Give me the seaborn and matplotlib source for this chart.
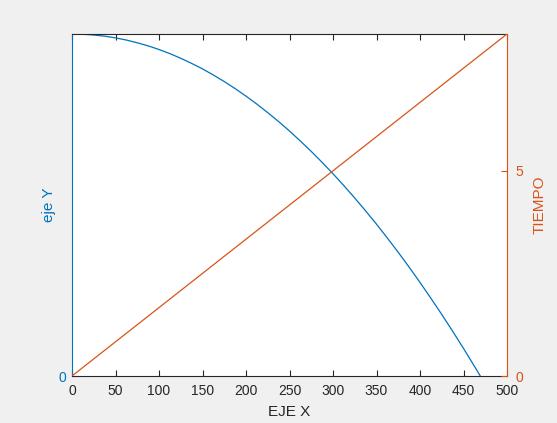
import numpy as np
import pandas as pd
import matplotlib
matplotlib.use("Agg")
import matplotlib.pyplot as plt
import seaborn as sns

# posicion horizontal y altura (curva azul)
eje_x = [0, 12.5, 25, 37.5, 50, 62.5, 75, 87.5, 100, 112.5, 125, 137.5, 150,
         162.5, 175, 187.5, 200, 212.5, 225, 237.5, 250, 262.5, 275, 287.5,
         300, 312.5, 325, 337.5, 350, 362.5, 375, 387.5, 400, 412.5, 425,
         437.5, 450, 462.5, 469.3]
eje_y = [300, 299.8, 299.1, 298.1, 296.6, 294.7, 292.3, 289.6, 286.4, 282.8,
         278.7, 274.2, 269.4, 264.0, 258.3, 252.1, 245.5, 238.5, 231.0, 223.2,
         214.9, 206.1, 197.0, 187.4, 177.4, 167.0, 156.1, 144.8, 133.2, 121.0,
         108.5, 95.5, 82.1, 68.2, 54.0, 39.3, 24.2, 8.6, 0]

# tiempo (recta naranja)
x_tiempo = [0, 500]
tiempo = [0, 8.333]

azul = "#0072BD"
naranja = "#D95319"
gris = "#262626"

sns.set_style("white")
plt.rcParams["font.family"] = ["Liberation Sans", "DejaVu Sans"]

fig = plt.figure(figsize=(5.57, 4.23), dpi=100, facecolor="#F0F0F0")
ax = fig.add_axes([72 / 557, 1 - 376 / 423, 435 / 557, 342 / 423])
ax.set_facecolor("white")

df_y = pd.DataFrame({"x": eje_x, "y": eje_y})
df_t = pd.DataFrame({"x": x_tiempo, "t": tiempo})

sns.lineplot(data=df_y, x="x", y="y", ax=ax, color=azul, linewidth=0.9)
ax.set_xlim(0, 500)
ax.set_ylim(0, 300)
ax.set_xticks(np.arange(0, 501, 50))
ax.set_yticks([0])
ax.set_xlabel("EJE X", fontsize=11, color=gris, labelpad=5)
ax.set_ylabel("eje Y", fontsize=11, color=azul, labelpad=2)

ax2 = ax.twinx()
sns.lineplot(data=df_t, x="x", y="t", ax=ax2, color=naranja, linewidth=0.9)
ax2.set_ylim(0, 8.333)
ax2.set_yticks([0, 5])
ax2.set_ylabel("TIEMPO", fontsize=11, color=naranja, labelpad=7)
ax2.set_xlim(0, 500)

for s in ax.spines.values():
    s.set_visible(True)
    s.set_linewidth(0.8)
ax.spines["bottom"].set_color(gris)
ax.spines["top"].set_color(gris)
ax.spines["left"].set_color(azul)
ax.spines["right"].set_visible(False)
for s in ["top", "bottom", "left"]:
    ax2.spines[s].set_visible(False)
ax2.spines["right"].set_visible(True)
ax2.spines["right"].set_color(naranja)
ax2.spines["right"].set_linewidth(0.8)

ax.tick_params(axis="x", direction="in", length=4, width=0.8, colors=gris,
               labelsize=10, top=True, bottom=True, pad=6)
ax.tick_params(axis="y", direction="in", length=4, width=0.8, colors=azul,
               labelsize=10, left=True, pad=4)
ax2.tick_params(axis="y", direction="in", length=4, width=0.8, colors=naranja,
                labelsize=10, right=True, pad=6)

fig.savefig("out.png", dpi=100, facecolor=fig.get_facecolor())
